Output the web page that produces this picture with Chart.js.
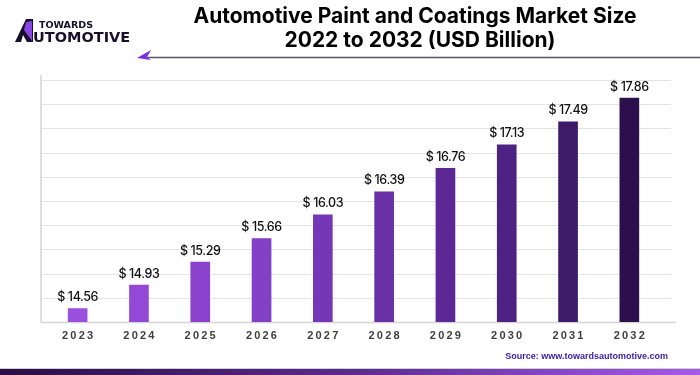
<!DOCTYPE html>
<html>
<head>
<meta charset="utf-8">
<script src="https://cdn.jsdelivr.net/npm/chart.js@4.4.1/dist/chart.umd.min.js"></script>
<style>
  html, body { margin: 0; padding: 0; background: #fff; }
  #wrap { width: 700px; height: 375px; position: relative; }
</style>
</head>
<body>
<div id="wrap"><canvas id="marketChart" width="700" height="375"></canvas></div>
<script>
// data
const years = ['2023', '2024', '2025', '2026', '2027', '2028', '2029', '2030', '2031', '2032']
const marketSize = [14.56, 14.93, 15.29, 15.66, 16.03, 16.39, 16.76, 17.13, 17.49, 17.86]
const barColors = ['#9b50de', '#9449d6', '#8b43cd', '#8240c6', '#7637b6', '#6a30a6', '#5c2994', '#4e2282', '#3e1a6a', '#2c104d']
const titleLines = ['Automotive Paint and Coatings Market Size', '2022 to 2032 (USD Billion)']
const sourceText = 'Source: www.towardsautomotive.com'
const yMin = 14.35
const yMax = 18.145
const gridCount = 10

// header, logo, grid, value labels, year labels, footer
const decor = {
  id: 'decor',
  beforeDatasetsDraw(chart) {
    const { ctx, chartArea, scales } = chart
    const y = scales.y
    ctx.save()
    // grid lines (wider than the bar area, like the original)
    ctx.strokeStyle = '#e3e3e8'
    ctx.lineWidth = 1.2
    y.ticks.forEach((t, i) => {
      if (i === 0) return
      const py = Math.round(y.getPixelForValue(t.value)) + 0.5
      ctx.beginPath()
      ctx.moveTo(chartArea.left - 6, py)
      ctx.lineTo(chartArea.right + 11, py)
      ctx.stroke()
    })
    // base line
    const by = Math.round(y.getPixelForValue(yMin)) + 0.5
    ctx.strokeStyle = '#d4d4d8'
    ctx.lineWidth = 1.5
    ctx.beginPath()
    ctx.moveTo(chartArea.left - 6, by)
    ctx.lineTo(chartArea.right + 16, by)
    ctx.stroke()
    // left axis line
    ctx.beginPath()
    ctx.moveTo(chartArea.left - 6, chartArea.top - 5)
    ctx.lineTo(chartArea.left - 6, by)
    ctx.stroke()
    ctx.restore()
  },
  afterDatasetsDraw(chart) {
    const { ctx, scales } = chart
    const x = scales.x
    ctx.save()
    // value labels
    ctx.fillStyle = '#111'
    ctx.font = '500 12.5px Inter, "Liberation Sans", Arial, sans-serif'
    ctx.letterSpacing = '-0.4px'
    ctx.textAlign = 'center'
    ctx.textBaseline = 'bottom'
    chart.getDatasetMeta(0).data.forEach((bar, i) => {
      ctx.fillText('$ ' + marketSize[i].toFixed(2), bar.x, bar.y - 5)
    })
    // year labels, letter spaced
    ctx.fillStyle = '#404040'
    ctx.font = 'bold 11px "Liberation Sans", Arial, sans-serif'
    ctx.letterSpacing = '2.2px'
    ctx.textBaseline = 'middle'
    years.forEach((yr, i) => {
      ctx.fillText(yr, x.getPixelForValue(i) + 1, 336)
    })
    ctx.letterSpacing = '0px'
    ctx.restore()
  },
  afterDraw(chart) {
    const { ctx, width, height } = chart
    ctx.save()
    // title
    ctx.fillStyle = '#000'
    ctx.textAlign = 'center'
    ctx.textBaseline = 'alphabetic'
    ctx.font = 'bold 21px Inter, "Liberation Sans", Arial, sans-serif'
    ctx.fillText(titleLines[0], 415, 23)
    ctx.fillText(titleLines[1], 420, 47)
    // rule under title with arrow tip
    ctx.strokeStyle = '#545866'
    ctx.lineWidth = 1.5
    ctx.beginPath()
    ctx.moveTo(146, 57.5)
    ctx.lineTo(width, 57.5)
    ctx.stroke()
    ctx.fillStyle = '#7a2fe0'
    ctx.beginPath()
    ctx.moveTo(137, 58)
    ctx.lineTo(151, 50)
    ctx.lineTo(147, 57)
    ctx.lineTo(151, 60)
    ctx.closePath()
    ctx.fill()
    // logo mark
    ctx.fillStyle = '#16102a'
    ctx.beginPath()
    ctx.moveTo(15, 42)
    ctx.lineTo(26, 19)
    ctx.lineTo(33, 19)
    ctx.lineTo(33, 42)
    ctx.lineTo(27, 42)
    ctx.lineTo(23, 35)
    ctx.lineTo(21, 42)
    ctx.closePath()
    ctx.fill()
    ctx.fillStyle = '#8a45e6'
    ctx.beginPath()
    ctx.moveTo(26, 22)
    ctx.lineTo(32, 21)
    ctx.lineTo(32, 41)
    ctx.lineTo(24, 30)
    ctx.closePath()
    ctx.fill()
    ctx.fillStyle = '#16102a'
    ctx.textAlign = 'left'
    ctx.textBaseline = 'alphabetic'
    ctx.font = 'bold 9.5px "DejaVu Sans", sans-serif'
    ctx.fillText('TOWARDS', 39, 28)
    ctx.font = 'bold 14.5px "DejaVu Sans", sans-serif'
    ctx.fillText('UTOMOTIVE', 33, 42)
    // source
    ctx.fillStyle = '#3b22a6'
    ctx.textAlign = 'right'
    ctx.textBaseline = 'middle'
    ctx.font = 'bold 9px "Liberation Sans", Arial, sans-serif'
    ctx.fillText(sourceText, 668, 357)
    // footer band
    ctx.fillStyle = '#cfcfd6'
    ctx.fillRect(0, 368, width, 1)
    const g = ctx.createLinearGradient(0, 0, width, 0)
    g.addColorStop(0, '#2a0d45')
    g.addColorStop(0.5, '#5a2a8e')
    g.addColorStop(1, '#a65ae6')
    ctx.fillStyle = g
    ctx.fillRect(0, 369, width, height - 369)
    ctx.restore()
  },
}

new Chart('marketChart', {
  type: 'bar',
  data: {
    labels: years,
    datasets: [
      {
        label: 'Market Size',
        data: marketSize,
        backgroundColor: barColors,
        borderWidth: 0,
        barThickness: 19,
      },
    ],
  },
  options: {
    responsive: false,
    animation: false,
    devicePixelRatio: 1,
    layout: { padding: { left: 47, right: 40, top: 80, bottom: 53 } },
    plugins: {
      legend: { display: false },
      title: { display: false },
      tooltip: { enabled: false },
    },
    scales: {
      x: {
        display: false,
      },
      y: {
        display: false,
        min: yMin,
        max: yMax,
        afterBuildTicks(scale) {
          const step = (yMax - yMin) / gridCount
          const ticks = []
          for (let i = 0; i <= gridCount; i++) ticks.push({ value: yMin + step * i })
          scale.ticks = ticks
        },
      },
    },
  },
  plugins: [decor],
})
</script>
</body>
</html>
